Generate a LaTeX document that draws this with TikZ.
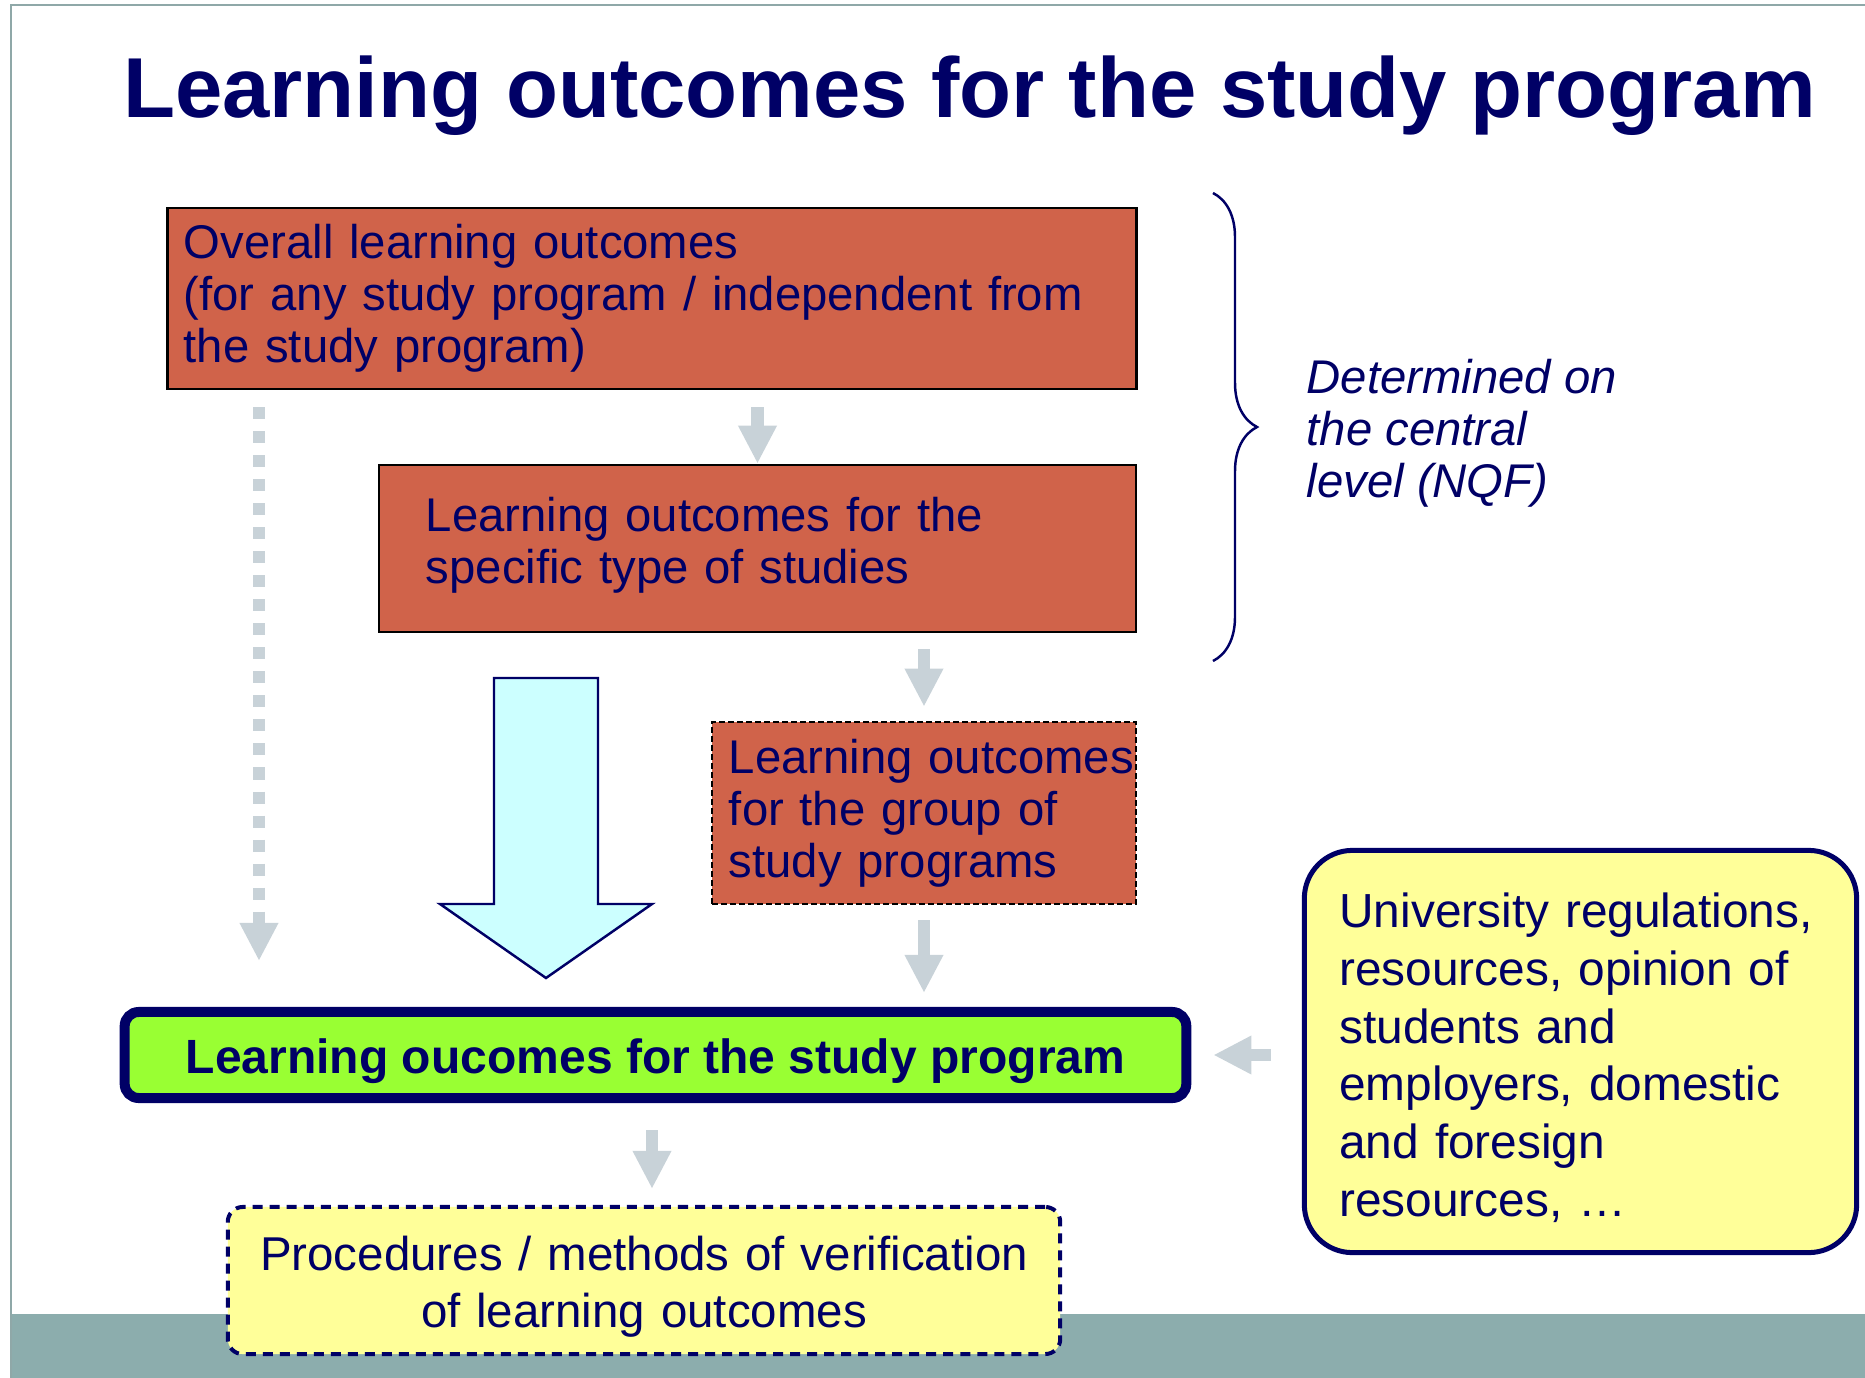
\documentclass[tikz,border=0pt]{standalone}
\usepackage{fontspec}
\setmainfont{Liberation Sans}
\usetikzlibrary{arrows.meta, decorations.pathreplacing}

\definecolor{navy}{HTML}{000066}
\definecolor{brick}{HTML}{D0634A}
\definecolor{arrowgray}{HTML}{C8D2D8}
\definecolor{paleCyan}{HTML}{CCFFFF}
\definecolor{progGreen}{HTML}{99FF33}
\definecolor{paleYellow}{HTML}{FFFF99}
\definecolor{bandTeal}{HTML}{8CADAD}
\definecolor{slideFrame}{HTML}{8FA8A8}

\newcommand{\toplift}{\rule{0pt}{0.47cm}}

\begin{document}
\begin{tikzpicture}[x=0.01cm, y=-0.01cm,
 every node/.style={text=navy, font=\fontsize{13.45}{14.8}\selectfont},
 level box/.style={draw=black, fill=brick, line width=0.7pt, align=left, inner ysep=0pt},
 yellow box/.style={draw=navy, fill=paleYellow, font=\fontsize{13.6}{16.4}\selectfont},
 gray arrow/.style={draw=arrowgray, line width=0.12cm, -{Triangle[width=0.36cm,length=0.38cm]}},
 dotted arrow/.style={gray arrow, dash pattern=on 0.12cm off 0.12cm}]

  \useasboundingbox (0,0) rectangle (1865,1378);
  \fill[bandTeal] (10,1314) rectangle (1865,1378);
  \draw[slideFrame, line width=0.025cm] (11,1378) -- (11,5) -- (1865,5);

  \node[font=\fontsize{24.2}{29}\selectfont\bfseries, anchor=base] (title) at (969.5,117) {Learning outcomes for the study program};

  % levels
  \node[level box, inner xsep=0.16cm, text width=9.36cm, minimum height=1.81cm] (overall) at (652,298.5) {Overall learning outcomes\\(for any study program / independent from\\the study program)};
  \node[level box, inner xsep=0.47cm, text width=6.63cm, minimum height=1.67cm] (typebox) at (757.5,548.5) {Learning outcomes for the\\specific type of studies\par\vspace{0.07cm}};
  \node[level box, dash pattern=on 0.06cm off 0.03cm, inner xsep=0.17cm, text width=3.9cm, minimum height=1.82cm] (group) at (924,813) {\mbox{Learning outcomes}\\for the group of\\study programs};

  \node[draw=navy, line width=0.1cm, fill=progGreen, rounded corners=0.14cm, minimum width=10.61cm, minimum height=0.86cm, text height=0.47cm, text depth=0.1cm, font=\fontsize{13.66}{14.8}\selectfont\bfseries] (program) at (655.5,1055) {Learning oucomes for the study program};

  \node[yellow box, line width=0.04cm, dash pattern=on 0.1cm off 0.07cm, rounded corners=0.15cm, align=center, text width=8cm, inner xsep=0.16cm, minimum height=1.47cm, font=\fontsize{13.5}{16.4}\selectfont] (verify) at (644,1280.5) {\toplift Procedures / methods of verification\\of learning outcomes};
  \node[yellow box, line width=0.05cm, rounded corners=0.48cm, align=left, inner xsep=0.35cm, text width=4.82cm, minimum height=4.02cm] (extra) at (1580.5,1051.5) {\toplift University regulations,\\resources, opinion of\\students and\\employers, domestic\\and foresign\\resources, …};

  \node[font=\fontsize{13.45}{14.8}\selectfont\itshape, align=left, anchor=west, inner sep=0pt] (central) at (1306,433) {Determined on\\the central\\level (NQF)};

  \coordinate (brace top) at (1213,193);
  \coordinate (brace bottom) at (1213,661);
  \draw[navy, line width=0.7pt, decorate, decoration={brace, amplitude=0.44cm}] (brace top) -- (brace bottom);

  % connectors
  \coordinate (dot end) at (259,961);
  \coordinate (verify col) at (652,0);
  \draw[dotted arrow, shorten <=0.17cm] (overall.south -| dot end) -- (dot end);
  \draw[gray arrow, shorten <=0.17cm] (overall.south -| typebox.north) -- (typebox.north);
  \draw[gray arrow, shorten <=0.16cm, shorten >=0.14cm] (typebox.south -| group.north) -- (group.north);
  \draw[gray arrow, shorten <=0.15cm, shorten >=0.14cm] (group.south) -- (program.north -| group.south);
  \draw[gray arrow, shorten <=0.27cm, shorten >=0.16cm] (program.south -| verify col) -- (verify.north -| verify col);
  \draw[gray arrow, shorten <=0.31cm, shorten >=0.22cm] (extra.west |- program.east) -- (program.east);

  \draw[navy, fill=paleCyan, line width=0.7pt] (494,678) -- (598,678) -- (598,904) -- (652,904) -- (546,978) -- (440,904) -- (494,904) -- cycle;
\end{tikzpicture}
\end{document}
